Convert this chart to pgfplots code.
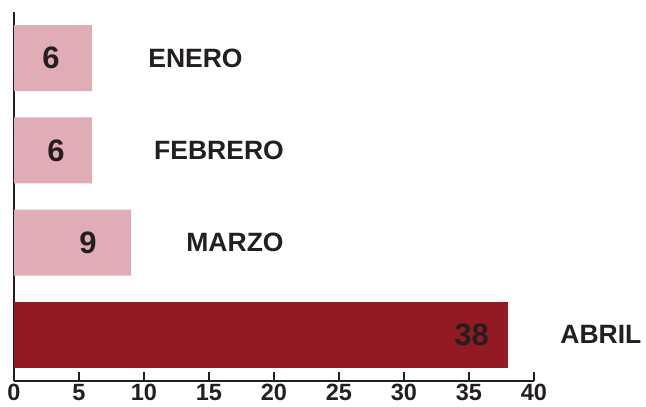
\documentclass[border=0pt]{standalone}
\usepackage{fontspec}
\setmainfont{Liberation Sans}
\usepackage{pgfplots}
\pgfplotsset{compat=1.18}
\definecolor{pinkbar}{HTML}{E0ACB6}
\definecolor{redbar}{HTML}{921A22}
\definecolor{ink}{HTML}{231F20}
\tikzset{
 valnode/.style={font=\bfseries\fontsize{31}{31}\selectfont, text=ink, inner sep=0pt},
 catnode/.style={font=\bfseries\fontsize{26.5}{26.5}\selectfont, text=ink, inner sep=0pt},
}
\begin{document}
\begin{tikzpicture}
\useasboundingbox (-14pt,-26pt) rectangle (632pt,381pt);
\begin{axis}[
 scale only axis, width=520pt, height=369pt,
 xmin=0, xmax=40, ymin=0.5, ymax=4.5,
 axis lines=left, axis line style={-, line width=2.2pt, color=ink},
 xtick={0,5,...,40}, ytick=\empty,
 tick align=inside, major tick length=9pt, tick style={line width=2pt, color=ink},
 xbar, bar width=0.714, bar shift=0pt,
 clip=false,
 /pgf/number format/assume math mode=true,
 ticklabel style={font=\bfseries\fontsize{23.5}{23.5}\selectfont, text=ink},
]
\addplot[fill=pinkbar, draw=none] coordinates {(6,4) (6,3) (9,2)};
\addplot[fill=redbar, draw=none] coordinates {(38,1)};
\node[valnode] at (axis cs:2.85,4) {6};
\node[valnode] at (axis cs:3.23,3) {6};
\node[valnode] at (axis cs:5.7,2) {9};
\node[valnode] at (axis cs:35.2,1) {38};
\node[catnode] at (axis cs:13.96,4) {ENERO};
\node[catnode] at (axis cs:15.77,3) {FEBRERO};
\node[catnode] at (axis cs:17.0,2) {MARZO};
\node[catnode] at (axis cs:45.15,1) {ABRIL};
\end{axis}
\end{tikzpicture}
\end{document}
